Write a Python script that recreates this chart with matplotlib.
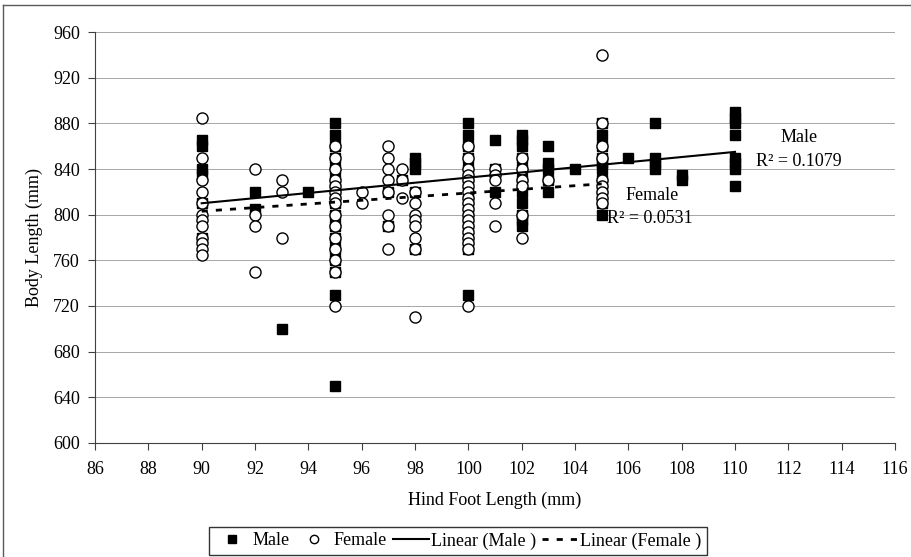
"Scatter of body length against hind foot length, with linear trendlines."

import numpy as np
import matplotlib
matplotlib.use('Agg')
import matplotlib.pyplot as plt
from matplotlib.lines import Line2D

# body length (mm) of the animals at each hind foot length (mm)
male_foot = [90, 92, 93, 94, 95, 97, 97.5, 98, 100, 101, 102, 103, 104,
             105, 106, 107, 108, 110]
male_body = [
    [865, 860, 840, 835, 810, 780],
    [820, 805],
    [700],
    [820],
    [880, 870, 860, 850, 840, 830, 820, 810, 800, 790, 780, 770, 760, 750,
     730, 650],
    [820, 790],
    [830],
    [850, 845, 840, 820, 770],
    [880, 870, 860, 850, 840, 830, 820, 810, 800, 790, 780, 770, 730],
    [865, 840, 820],
    [870, 865, 860, 850, 840, 830, 820, 810, 800, 795, 790],
    [860, 845, 840, 830, 820],
    [840],
    [880, 870, 860, 850, 845, 840, 830, 820, 810, 800],
    [850],
    [880, 850, 845, 840],
    [835, 830],
    [890, 885, 880, 870, 850, 845, 840, 825],
]

female_foot = [90, 92, 93, 95, 96, 97, 97.5, 98, 100, 101, 102, 103, 105]
female_body = [
    [885, 850, 830, 820, 810, 800, 795, 790, 780, 775, 770, 765],
    [840, 800, 790, 750],
    [830, 820, 780],
    [860, 850, 840, 830, 825, 820, 815, 810, 800, 790, 780, 770, 760, 750,
     720],
    [820, 810],
    [860, 850, 840, 830, 820, 800, 790, 770],
    [840, 830, 815],
    [820, 810, 800, 795, 790, 780, 770, 710],
    [860, 850, 840, 835, 830, 825, 820, 815, 810, 805, 800, 795, 790, 785,
     780, 775, 770, 720],
    [840, 835, 830, 810, 790],
    [850, 840, 830, 825, 800, 780],
    [830],
    [940, 880, 860, 850, 830, 825, 820, 815, 810],
]

# trendline (slope, intercept) and fit quality of each sex
male_fit = (2.25, 607.5)
female_fit = (1.6, 659.0)
male_r2 = 0.1079
female_r2 = 0.0531


def flatten(feet, bodies):
    "Turn per-foot-length groups into paired x, y arrays"
    x = np.repeat(feet, [len(b) for b in bodies]).astype(float)
    y = np.array([v for b in bodies for v in b], dtype=float)
    return x, y


def trend(x, fit):
    "Trendline over the range of x"
    xs = np.array([x.min(), x.max()])
    return xs, fit[0] * xs + fit[1]


plt.rcParams['font.family'] = ['Liberation Serif', 'DejaVu Serif']
plt.rcParams['font.size'] = 13

fig = plt.figure(figsize=(9.12, 5.57), dpi=100)
ax = fig.add_axes([0.1042, 0.2047, 0.8772, 0.7378])

mx, my = flatten(male_foot, male_body)
fx, fy = flatten(female_foot, female_body)

ax.plot(mx, my, linestyle='', marker='s', markersize=7.5,
        markerfacecolor='k', markeredgecolor='k', zorder=3)
ax.plot(fx, fy, linestyle='', marker='o', markersize=8,
        markerfacecolor='w', markeredgecolor='k', markeredgewidth=1,
        zorder=4)

tx, ty = trend(mx, male_fit)
ax.plot(tx, ty, color='k', lw=1.5, zorder=5)
tx, ty = trend(fx, female_fit)
ax.plot(tx, ty, color='k', lw=2, linestyle=(0, (2.2, 2.9)), zorder=5)

ax.text(112.4, 868, 'Male', ha='center', va='center')
ax.text(112.4, 847, 'R² = %.4f' % male_r2, ha='center', va='center')
ax.text(106.9, 817, 'Female', ha='center', va='center')
ax.text(106.8, 797, 'R² = %.4f' % female_r2, ha='center', va='center')

ax.set_xlim(86, 116)
ax.set_ylim(600, 960)
ax.set_xticks(np.arange(86, 117, 2))
ax.set_yticks(np.arange(600, 961, 40))
ax.yaxis.grid(True, color='0.65', lw=0.7)
ax.set_axisbelow(True)
for side in ('top', 'right'):
    ax.spines[side].set_visible(False)
for side in ('left', 'bottom'):
    ax.spines[side].set_color('0.25')
ax.tick_params(direction='out', length=5, width=0.8, color='0.25')
ax.tick_params(axis='x', pad=8)
ax.tick_params(axis='y', pad=6)

ax.set_xlabel('Hind Foot Length (mm)', labelpad=10)
ax.set_ylabel('Body Length (mm)', labelpad=7)

handles = [
    Line2D([], [], linestyle='', marker='s', markersize=6, color='k'),
    Line2D([], [], linestyle='', marker='o', markersize=6,
           markerfacecolor='w', markeredgecolor='k'),
    Line2D([], [], color='k', lw=1.5),
    Line2D([], [], color='k', lw=2, linestyle=(0, (2.2, 2.9))),
]
labels = ['Male', 'Female', 'Linear (Male )', 'Linear (Female )']
leg = fig.legend(handles, labels, loc='center', bbox_to_anchor=(0.502, 0.029),
                 ncol=4, frameon=True, fancybox=False, handlelength=2.0,
                 handletextpad=0.1, columnspacing=0.35, borderpad=0.3,
                 borderaxespad=0, fontsize=13)
leg.get_frame().set_edgecolor('k')
leg.get_frame().set_linewidth(1)

# chart area border along the top and left
fig.add_artist(Line2D([0.0033, 1.0], [0.991, 0.991], color='0.35', lw=1,
                      transform=fig.transFigure))
fig.add_artist(Line2D([0.0033, 0.0033], [0.0, 0.991], color='0.35', lw=1,
                      transform=fig.transFigure))

fig.savefig('out.png', dpi=100)
